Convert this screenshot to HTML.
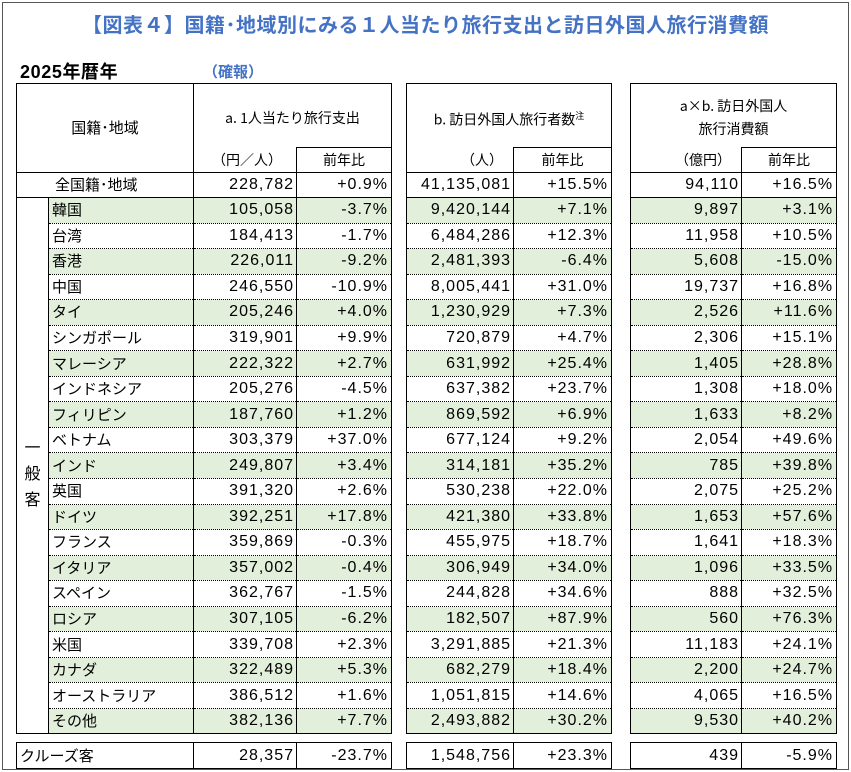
<!DOCTYPE html>
<html><head><meta charset="utf-8">
<style>
body{margin:0;width:851px;height:772px;background:#fff;position:relative;overflow:hidden;font-family:"Liberation Sans","Noto Sans CJK JP",sans-serif;color:#000}
.frame{position:absolute;left:2px;top:2px;width:845px;height:766px;border:1px solid #555}
.title{position:absolute;left:0;top:9px;width:851px;text-align:center;font-size:20px;font-weight:bold;color:#4472c4;font-family:"Noto Sans CJK JP",sans-serif;letter-spacing:0.5px}
.yr{position:absolute;left:20px;top:58px;font-size:18px;font-weight:bold;letter-spacing:0.6px;font-family:"Liberation Sans","Noto Sans CJK JP",sans-serif}
.kh{position:absolute;left:203px;top:61px;font-size:15px;font-weight:bold;color:#4472c4;font-family:"Noto Sans CJK JP",sans-serif}
table{position:absolute;border-collapse:collapse;table-layout:fixed;font-size:16px}
td{padding:0 3px;white-space:nowrap;overflow:hidden;line-height:18px}
td.n{text-align:right;border-left:1px solid #000;border-right:1px solid #000;letter-spacing:1px;padding-right:2px}
td.p{text-align:right;border-right:1px solid #000;padding-right:3px;letter-spacing:1px}
td.nm{border-left:1px solid #000;padding-left:3px;font-family:"Noto Sans CJK JP",sans-serif;font-size:15px}
td.s{border:none!important;background:#fff!important}
tr.r td{border-bottom:1px dotted #000}
tr.g td{background:#e2efda}
tr.g td.s,tr.g td.grp{background:#fff}
tr.last td{border-bottom:1px solid #000}
tr.r{height:25.55px}
.hd td{font-family:"Noto Sans CJK JP",sans-serif;font-size:14px}
</style></head><body>
<div class="frame"></div>
<div class="title">【図表４】国籍･地域別にみる１人当たり旅行支出と訪日外国人旅行消費額</div>
<div class="yr">2025年暦年</div>
<div class="kh">（確報）</div>

<table style="left:16px;top:83px;width:821px">
<colgroup><col style="width:32px"><col style="width:145px"><col style="width:103px"><col style="width:95px"><col style="width:15px"><col style="width:107px"><col style="width:98px"><col style="width:19px"><col style="width:111px"><col style="width:95px"></colgroup>
<tr class="hd" style="height:64px">
<td colspan="2" rowspan="2" style="border:1px solid #000;text-align:center;font-size:15px">国籍･地域</td>
<td colspan="2" style="border:1px solid #000;border-bottom:none;text-align:center;padding-top:4px">a. 1人当たり旅行支出</td>
<td class="s"></td>
<td colspan="2" style="border:1px solid #000;border-bottom:none;text-align:center;padding-top:4px">b. 訪日外国人旅行者数<sup style="font-size:9px">注</sup></td>
<td class="s"></td>
<td colspan="2" style="border:1px solid #000;border-bottom:none;text-align:center;line-height:23px;padding-top:4px">a×b. 訪日外国人<br>旅行消費額</td>
</tr>
<tr class="hd" style="height:25px">
<td style="border-left:1px solid #000;border-bottom:1px solid #000;text-align:right;padding-right:14px">（円／人）</td>
<td style="border:1px solid #000;text-align:center">前年比</td>
<td class="s"></td>
<td style="border-left:1px solid #000;border-bottom:1px solid #000;text-align:right;padding-right:10px">（人）</td>
<td style="border:1px solid #000;text-align:center">前年比</td>
<td class="s"></td>
<td style="border-left:1px solid #000;border-bottom:1px solid #000;text-align:right;padding-right:10px">（億円）</td>
<td style="border:1px solid #000;text-align:center">前年比</td>
</tr>
<tr style="height:25px"><td colspan="2" style="border-left:1px solid #000;border-bottom:1px solid #000;padding-left:38px;font-family:'Noto Sans CJK JP',sans-serif;font-size:15px">全国籍･地域</td><td class="n" style="border-bottom:1px solid #000">228,782</td><td class="p" style="border-bottom:1px solid #000">+0.9%</td><td class="s"></td><td class="n" style="border-bottom:1px solid #000">41,135,081</td><td class="p" style="border-bottom:1px solid #000">+15.5%</td><td class="s"></td><td class="n" style="border-bottom:1px solid #000">94,110</td><td class="p" style="border-bottom:1px solid #000">+16.5%</td></tr>
<tr class="r g"><td class="grp" rowspan="22" style="border-left:1px solid #000;border-bottom:1px solid #000;text-align:center;vertical-align:middle;font-family:'Noto Sans CJK JP',sans-serif;line-height:26px;white-space:normal;padding:12px 0 0 0">一<br>般<br>客</td><td class="nm">韓国</td><td class="n">105,058</td><td class="p">-3.7%</td><td class="s"></td><td class="n">9,420,144</td><td class="p">+7.1%</td><td class="s"></td><td class="n">9,897</td><td class="p">+3.1%</td></tr>
<tr class="r"><td class="nm">台湾</td><td class="n">184,413</td><td class="p">-1.7%</td><td class="s"></td><td class="n">6,484,286</td><td class="p">+12.3%</td><td class="s"></td><td class="n">11,958</td><td class="p">+10.5%</td></tr>
<tr class="r g"><td class="nm">香港</td><td class="n">226,011</td><td class="p">-9.2%</td><td class="s"></td><td class="n">2,481,393</td><td class="p">-6.4%</td><td class="s"></td><td class="n">5,608</td><td class="p">-15.0%</td></tr>
<tr class="r"><td class="nm">中国</td><td class="n">246,550</td><td class="p">-10.9%</td><td class="s"></td><td class="n">8,005,441</td><td class="p">+31.0%</td><td class="s"></td><td class="n">19,737</td><td class="p">+16.8%</td></tr>
<tr class="r g"><td class="nm">タイ</td><td class="n">205,246</td><td class="p">+4.0%</td><td class="s"></td><td class="n">1,230,929</td><td class="p">+7.3%</td><td class="s"></td><td class="n">2,526</td><td class="p">+11.6%</td></tr>
<tr class="r"><td class="nm">シンガポール</td><td class="n">319,901</td><td class="p">+9.9%</td><td class="s"></td><td class="n">720,879</td><td class="p">+4.7%</td><td class="s"></td><td class="n">2,306</td><td class="p">+15.1%</td></tr>
<tr class="r g"><td class="nm">マレーシア</td><td class="n">222,322</td><td class="p">+2.7%</td><td class="s"></td><td class="n">631,992</td><td class="p">+25.4%</td><td class="s"></td><td class="n">1,405</td><td class="p">+28.8%</td></tr>
<tr class="r"><td class="nm">インドネシア</td><td class="n">205,276</td><td class="p">-4.5%</td><td class="s"></td><td class="n">637,382</td><td class="p">+23.7%</td><td class="s"></td><td class="n">1,308</td><td class="p">+18.0%</td></tr>
<tr class="r g"><td class="nm">フィリピン</td><td class="n">187,760</td><td class="p">+1.2%</td><td class="s"></td><td class="n">869,592</td><td class="p">+6.9%</td><td class="s"></td><td class="n">1,633</td><td class="p">+8.2%</td></tr>
<tr class="r"><td class="nm">ベトナム</td><td class="n">303,379</td><td class="p">+37.0%</td><td class="s"></td><td class="n">677,124</td><td class="p">+9.2%</td><td class="s"></td><td class="n">2,054</td><td class="p">+49.6%</td></tr>
<tr class="r g"><td class="nm">インド</td><td class="n">249,807</td><td class="p">+3.4%</td><td class="s"></td><td class="n">314,181</td><td class="p">+35.2%</td><td class="s"></td><td class="n">785</td><td class="p">+39.8%</td></tr>
<tr class="r"><td class="nm">英国</td><td class="n">391,320</td><td class="p">+2.6%</td><td class="s"></td><td class="n">530,238</td><td class="p">+22.0%</td><td class="s"></td><td class="n">2,075</td><td class="p">+25.2%</td></tr>
<tr class="r g"><td class="nm">ドイツ</td><td class="n">392,251</td><td class="p">+17.8%</td><td class="s"></td><td class="n">421,380</td><td class="p">+33.8%</td><td class="s"></td><td class="n">1,653</td><td class="p">+57.6%</td></tr>
<tr class="r"><td class="nm">フランス</td><td class="n">359,869</td><td class="p">-0.3%</td><td class="s"></td><td class="n">455,975</td><td class="p">+18.7%</td><td class="s"></td><td class="n">1,641</td><td class="p">+18.3%</td></tr>
<tr class="r g"><td class="nm">イタリア</td><td class="n">357,002</td><td class="p">-0.4%</td><td class="s"></td><td class="n">306,949</td><td class="p">+34.0%</td><td class="s"></td><td class="n">1,096</td><td class="p">+33.5%</td></tr>
<tr class="r"><td class="nm">スペイン</td><td class="n">362,767</td><td class="p">-1.5%</td><td class="s"></td><td class="n">244,828</td><td class="p">+34.6%</td><td class="s"></td><td class="n">888</td><td class="p">+32.5%</td></tr>
<tr class="r g"><td class="nm">ロシア</td><td class="n">307,105</td><td class="p">-6.2%</td><td class="s"></td><td class="n">182,507</td><td class="p">+87.9%</td><td class="s"></td><td class="n">560</td><td class="p">+76.3%</td></tr>
<tr class="r"><td class="nm">米国</td><td class="n">339,708</td><td class="p">+2.3%</td><td class="s"></td><td class="n">3,291,885</td><td class="p">+21.3%</td><td class="s"></td><td class="n">11,183</td><td class="p">+24.1%</td></tr>
<tr class="r g"><td class="nm">カナダ</td><td class="n">322,489</td><td class="p">+5.3%</td><td class="s"></td><td class="n">682,279</td><td class="p">+18.4%</td><td class="s"></td><td class="n">2,200</td><td class="p">+24.7%</td></tr>
<tr class="r"><td class="nm">オーストラリア</td><td class="n">386,512</td><td class="p">+1.6%</td><td class="s"></td><td class="n">1,051,815</td><td class="p">+14.6%</td><td class="s"></td><td class="n">4,065</td><td class="p">+16.5%</td></tr>
<tr class="r g last"><td class="nm">その他</td><td class="n">382,136</td><td class="p">+7.7%</td><td class="s"></td><td class="n">2,493,882</td><td class="p">+30.2%</td><td class="s"></td><td class="n">9,530</td><td class="p">+40.2%</td></tr>
</table>

<table style="left:16px;top:742px;width:821px">
<colgroup><col style="width:177px"><col style="width:103px"><col style="width:95px"><col style="width:15px"><col style="width:107px"><col style="width:98px"><col style="width:19px"><col style="width:111px"><col style="width:95px"></colgroup>
<tr style="height:26px">
<td class="nm" style="border-top:1px solid #000;border-bottom:1px solid #000">クルーズ客</td><td class="n" style="border-top:1px solid #000;border-bottom:1px solid #000">28,357</td><td class="p" style="border-top:1px solid #000;border-bottom:1px solid #000">-23.7%</td><td class="s"></td><td class="n" style="border-top:1px solid #000;border-bottom:1px solid #000">1,548,756</td><td class="p" style="border-top:1px solid #000;border-bottom:1px solid #000">+23.3%</td><td class="s"></td><td class="n" style="border-top:1px solid #000;border-bottom:1px solid #000">439</td><td class="p" style="border-top:1px solid #000;border-bottom:1px solid #000">-5.9%</td>
</tr>
</table>
</body></html>
